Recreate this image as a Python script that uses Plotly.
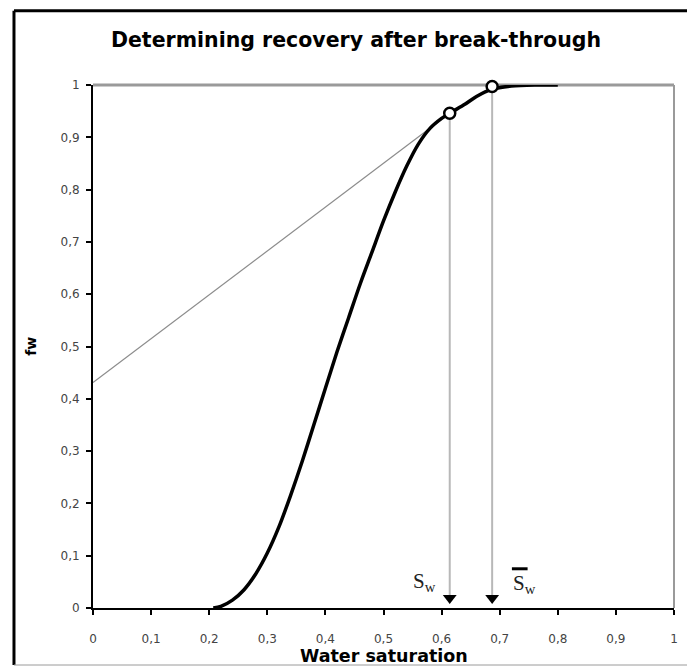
import plotly.graph_objects as go

# ---- data ----
sw = [0.207, 0.22, 0.24, 0.26, 0.28, 0.30, 0.32, 0.34, 0.36, 0.38, 0.40, 0.42, 0.44,
      0.46, 0.48, 0.50, 0.52, 0.54, 0.56, 0.58, 0.60, 0.614, 0.64, 0.66, 0.687,
      0.72, 0.76, 0.80]
fw = [0.0, 0.003, 0.015, 0.035, 0.065, 0.105, 0.155, 0.215, 0.28, 0.35, 0.42, 0.49, 0.555,
      0.62, 0.68, 0.74, 0.795, 0.845, 0.887, 0.917, 0.936, 0.946, 0.963, 0.978, 0.992,
      0.998, 1.0, 1.0]

tangent_sw = [0.0, 0.614]
tangent_fw = [0.431, 0.946]

point_sw = [0.614, 0.687]
point_fw = [0.946, 0.997]
arrow_fw = [0.019, 0.019]

tick_vals = [0, 0.1, 0.2, 0.3, 0.4, 0.5, 0.6, 0.7, 0.8, 0.9, 1]
tick_text = ["0", "0,1", "0,2", "0,3", "0,4", "0,5", "0,6", "0,7", "0,8", "0,9", "1"]

title_text = "Determining recovery after break-through"
x_title = "Water saturation"
y_title = "fw"

fig = go.Figure()

# drop lines from points to axis
for s, f, a in zip(point_sw, point_fw, arrow_fw):
    fig.add_trace(go.Scatter(x=[s, s], y=[f, a], mode="lines",
                             line=dict(color="#b8b8b8", width=2),
                             hoverinfo="skip", showlegend=False))

# tangent line
fig.add_trace(go.Scatter(x=tangent_sw, y=tangent_fw, mode="lines",
                         line=dict(color="#8c8c8c", width=1.2),
                         hoverinfo="skip", showlegend=False))

# fractional flow curve
fig.add_trace(go.Scatter(x=sw, y=fw, mode="lines",
                         line=dict(color="black", width=3.5, shape="spline", smoothing=0.8),
                         showlegend=False))

# arrow heads
fig.add_trace(go.Scatter(x=point_sw, y=arrow_fw, mode="markers",
                         marker=dict(symbol="triangle-down", size=12, color="black"),
                         showlegend=False))

# circles
fig.add_trace(go.Scatter(x=point_sw, y=point_fw, mode="markers",
                         marker=dict(symbol="circle", size=11, color="white",
                                     line=dict(color="black", width=2.5)),
                         showlegend=False, cliponaxis=False))

# labels Sw and mean Sw
fig.add_annotation(x=0.57, y=0.05, xref="x", yref="y", showarrow=False,
                   text="S<sub>w</sub>",
                   font=dict(family="Liberation Serif", size=21, color="#222"))
fig.add_annotation(x=0.742, y=0.045, xref="x", yref="y", showarrow=False,
                   text="S<sub>w</sub>",
                   font=dict(family="Liberation Serif", size=21, color="#222"))
fig.add_shape(type="line", x0=0.721, x1=0.748, y0=0.075, y1=0.075, xref="x", yref="y",
              line=dict(color="black", width=3))

# axis titles
fig.add_annotation(x=0.5, y=-0.092, xref="paper", yref="paper", showarrow=False,
                   xanchor="center", yanchor="middle",
                   text="<b>" + x_title + "</b>",
                   font=dict(family="DejaVu Sans", size=17.5, color="black"))
fig.add_annotation(x=-0.108, y=0.5, xref="paper", yref="paper", showarrow=False,
                   xanchor="center", yanchor="middle", textangle=-90,
                   text="<b>" + y_title + "</b>",
                   font=dict(family="DejaVu Sans", size=14, color="black"))

# plot-area border (top/right gray)
fig.add_shape(type="line", xref="paper", yref="paper", x0=0, x1=1, y0=1, y1=1,
              line=dict(color="#9a9a9a", width=3), layer="below")
fig.add_shape(type="line", xref="paper", yref="paper", x0=1, x1=1, y0=0, y1=1,
              line=dict(color="#9a9a9a", width=2), layer="below")

# outer frame
fig.add_shape(type="line", xref="paper", yref="paper", x0=-0.136, x1=1.1, y0=1.1418, y1=1.1418,
              line=dict(color="black", width=3))
fig.add_shape(type="line", xref="paper", yref="paper", x0=-0.136, x1=-0.136, y0=-0.109, y1=1.1418,
              line=dict(color="black", width=3))
fig.add_shape(type="line", xref="paper", yref="paper", x0=-0.136, x1=1.1, y0=-0.109, y1=-0.109,
              line=dict(color="#9a9a9a", width=1))

axis_common = dict(
    range=[0, 1], tickvals=tick_vals, ticktext=tick_text, automargin=False,
    showgrid=False, zeroline=False, showline=True, linecolor="black", linewidth=2,
    ticks="outside", ticklen=5, tickwidth=2, tickcolor="black",
    tickfont=dict(family="DejaVu Sans", size=12, color="#444"),
)

fig.update_layout(
    width=687, height=668,
    margin=dict(l=93, r=13, t=85, b=60),
    paper_bgcolor="white", plot_bgcolor="white",
    title=dict(text="<b>" + title_text + "</b>", x=356 / 687, xanchor="center",
               y=1 - 40 / 668, yanchor="middle",
               font=dict(family="DejaVu Sans", size=20.5, color="black")),
    xaxis=dict(**axis_common, ticklabelstandoff=14),
    yaxis=dict(**axis_common, ticklabelstandoff=4),
)

fig.write_html("out.html")
